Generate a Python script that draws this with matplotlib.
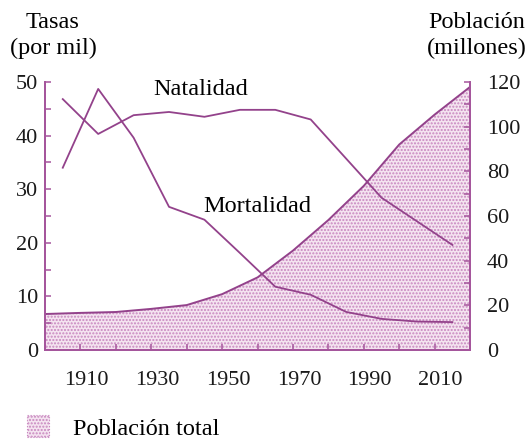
"""Natalidad, mortalidad y población total (1900-2020)."""

import matplotlib

matplotlib.use("Agg")
import matplotlib.pyplot as plt  # noqa: E402
from matplotlib.patches import Patch  # noqa: E402
from matplotlib.ticker import MultipleLocator  # noqa: E402
from matplotlib.transforms import ScaledTranslation  # noqa: E402

# --------------------------------------------------------------------------- #
# Datos
# --------------------------------------------------------------------------- #
anios_tasas = [1905, 1915, 1925, 1935, 1945, 1955, 1965, 1975, 1985, 1995, 2005, 2015]
natalidad = [46.8, 40.3, 43.8, 44.4, 43.5, 44.8, 44.8, 43.0, 35.7, 28.4, 24.0, 19.6]
mortalidad = [34.0, 48.7, 39.6, 26.7, 24.3, 18.1, 11.8, 10.3, 7.1, 5.8, 5.3, 5.2]

anios_pob = [1900, 1910, 1920, 1930, 1940, 1950, 1960, 1970, 1980, 1990, 2000, 2010, 2020]
poblacion = [16.1, 16.6, 17.0, 18.4, 20.1, 25.0, 32.5, 44.5, 58.2, 73.5, 92.0, 105.4, 117.8]

anios_etiqueta = [1910, 1930, 1950, 1970, 1990, 2010]

# --------------------------------------------------------------------------- #
# Estilo
# --------------------------------------------------------------------------- #
plt.rcParams["font.family"] = ["Liberation Serif", "DejaVu Serif"]
plt.rcParams["hatch.linewidth"] = 1.0

LINEA = "#93428b"
EJE = "#a5559c"
RELLENO = "#f4e4f0"
PUNTOS = "#c886bf"
FS_TICK = 16
FS_TXT = 17.5

fig = plt.figure(figsize=(5.3, 4.43), dpi=100)
ax = fig.add_axes([0.085, 0.21, 0.802, 0.605])
ax2 = ax.twinx()

# población total (eje derecho), área punteada
ax2.fill_between(anios_pob, poblacion, 0, facecolor=RELLENO, edgecolor=PUNTOS,
                 hatch=".....", linewidth=0, zorder=1)
ax2.plot(anios_pob, poblacion, color=LINEA, lw=1.4, zorder=2)
ax2.set_ylim(0, 120)
ax2.yaxis.set_major_locator(MultipleLocator(20))
ax2.yaxis.set_minor_locator(MultipleLocator(10))

# tasas (eje izquierdo) por encima del área
ax.set_zorder(ax2.get_zorder() + 1)
ax.patch.set_visible(False)
ax.plot(anios_tasas, natalidad, color=LINEA, lw=1.3)
ax.plot(anios_tasas, mortalidad, color=LINEA, lw=1.3)
ax.set_ylim(0, 50)
ax.set_xlim(1900, 2020)
ax.yaxis.set_major_locator(MultipleLocator(10))
ax.yaxis.set_minor_locator(MultipleLocator(5))
ax.set_xticks(anios_etiqueta)
ax.xaxis.set_minor_locator(MultipleLocator(10))

for a in (ax, ax2):
    a.spines["top"].set_visible(False)
    for s in a.spines.values():
        s.set_color(EJE)
        s.set_linewidth(1.3)
    a.tick_params(which="both", direction="in", color=EJE, width=1.1,
                  length=4, labelsize=FS_TICK, labelcolor="#1a1a1a")
ax.tick_params(axis="y", pad=5)
ax.tick_params(axis="x", pad=15)
ax2.tick_params(axis="y", pad=12)

# los años del original quedan algo a la derecha de su marca
desplaza = ScaledTranslation(6 / 100, 0, fig.dpi_scale_trans)
for lab in ax.get_xticklabels():
    lab.set_transform(lab.get_transform() + desplaza)

ax.text(1944, 48.5, "Natalidad", fontsize=FS_TXT, ha="center", va="center")
ax.text(1960, 26.7, "Mortalidad", fontsize=FS_TXT, ha="center", va="center")

fig.text(0.100, 0.950, "Tasas", fontsize=FS_TXT, ha="center", va="center")
fig.text(0.100, 0.890, "(por mil)", fontsize=FS_TXT, ha="center", va="center")
fig.text(0.900, 0.950, "Población", fontsize=FS_TXT, ha="center", va="center")
fig.text(0.900, 0.890, "(millones)", fontsize=FS_TXT, ha="center", va="center")

fig.legend(
    handles=[Patch(facecolor=RELLENO, edgecolor=PUNTOS, hatch=".....",
                   linestyle=":", linewidth=0.8, label="Población total")],
    loc="center left", bbox_to_anchor=(0.01, 0.035), frameon=False,
    fontsize=FS_TXT, handlelength=0.9, handleheight=1.0, handletextpad=1.0,
)

fig.savefig("out.png", dpi=100)
